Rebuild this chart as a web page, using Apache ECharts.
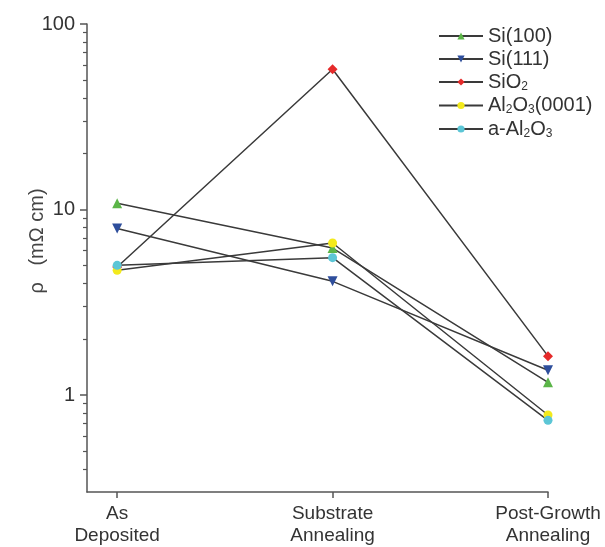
<!DOCTYPE html>
<html>
<head>
<meta charset="utf-8">
<script src="https://cdn.jsdelivr.net/npm/echarts@6/dist/echarts.min.js"></script>
<style>
  html, body { margin: 0; padding: 0; background: #fff; }
  #chart { width: 605px; height: 547px; }
</style>
</head>
<body>
<div id="chart"></div>
<script>
// stages on the x axis
const stages = ['As\nDeposited', 'Substrate\nAnnealing', 'Post-Growth\nAnnealing']

// resistivity, mΩ cm
const si100 = [10.8, 6.2, 1.17]
const si111 = [7.9, 4.1, 1.36]
const sio2 = [4.9, 57, 1.62]
const al2o3_0001 = [4.7, 6.6, 0.78]
const aAl2o3 = [5.0, 5.5, 0.73]

const majorTicks = [1, 10, 100]
const minorTicks = [0.4, 0.5, 0.6, 0.7, 0.8, 0.9, 2, 3, 4, 5, 6, 7, 8, 9, 20, 30, 40, 50, 60, 70, 80, 90]

const legendNames = ['Si(100)', 'Si(111)', 'SiO2', 'Al2O3(0001)', 'a-Al2O3']
const legendRich = {
	'Si(100)': '{a|Si(100)}',
	'Si(111)': '{a|Si(111)}',
	'SiO2': '{a|SiO}{s|2}',
	'Al2O3(0001)': '{a|Al}{s|2}{a|O}{s|3}{a|(0001)}',
	'a-Al2O3': '{a|a-Al}{s|2}{a|O}{s|3}'
}

const font = 'Liberation Sans, Arial, sans-serif'
const node = document.getElementById('chart')
const myChart = echarts.init(node)

const toPoints = (vals) => vals.map((v, i) => [i, v])

const makeSeries = (name, vals, symbol, color, size, rotate) => ({
	name: name,
	type: 'line',
	data: toPoints(vals),
	symbol: symbol,
	symbolSize: size,
	symbolRotate: rotate || 0,
	lineStyle: { color: '#3a3a3a', width: 1.5 },
	itemStyle: { color: color },
	z: 2
})

const option = {
	animation: false,
	textStyle: { fontFamily: font },
	grid: { left: 87, right: 57, top: 24, bottom: 55 },
	legend: {
		data: legendNames,
		orient: 'vertical',
		left: 433,
		top: 21,
		itemWidth: 44,
		itemHeight: 9,
		itemGap: 3,
		formatter: (name) => legendRich[name],
		textStyle: {
			rich: {
				a: { fontSize: 20, color: '#333', fontFamily: font },
				s: { fontSize: 12, color: '#333', verticalAlign: 'bottom', padding: [9, 0, 0, 0], fontFamily: font }
			}
		}
	},
	xAxis: {
		type: 'value',
		min: -0.14,
		max: 2,
		splitLine: { show: false },
		axisLine: { onZero: false, lineStyle: { color: '#555', width: 1.5 } },
		axisTick: { length: 6, customValues: [0, 1, 2], lineStyle: { color: '#555', width: 1.5 } },
		axisLabel: {
			customValues: [0, 1, 2],
			formatter: (v) => stages[Math.round(v)],
			color: '#333',
			fontSize: 19,
			lineHeight: 22,
			margin: 11
		}
	},
	yAxis: [
		{
			type: 'log',
			logBase: 10,
			min: 0.3,
			max: 100,
			position: 'left',
			name: 'ρ   (mΩ cm)',
			nameLocation: 'middle',
			nameGap: 40,
			nameMoveOverlap: false,
			nameTextStyle: { fontSize: 20, color: '#444', padding: [0, 0, 0, 34] },
			splitLine: { show: false },
			axisLine: { show: true, onZero: false, lineStyle: { color: '#555', width: 1.5 } },
			axisTick: { show: true, length: 7, customValues: majorTicks, lineStyle: { color: '#555', width: 1.5 } },
			axisLabel: { customValues: majorTicks, color: '#333', fontSize: 20, margin: 12 }
		},
		{
			type: 'log',
			logBase: 10,
			min: 0.3,
			max: 100,
			position: 'left',
			offset: 0,
			splitLine: { show: false },
			axisLine: { show: false, onZero: false },
			axisTick: { show: true, length: 4, customValues: minorTicks, lineStyle: { color: '#555', width: 1.2 } },
			axisLabel: { show: false }
		}
	],
	series: [
		makeSeries('Si(100)', si100, 'triangle', '#5bb548', 10),
		makeSeries('Si(111)', si111, 'triangle', '#2e4e9c', 10, 180),
		makeSeries('SiO2', sio2, 'diamond', '#e52a2a', 10),
		makeSeries('Al2O3(0001)', al2o3_0001, 'circle', '#f3ea1c', 9),
		makeSeries('a-Al2O3', aAl2o3, 'circle', '#5cc6d6', 9)
	]
}

myChart.setOption(option)
</script>
</body>
</html>
